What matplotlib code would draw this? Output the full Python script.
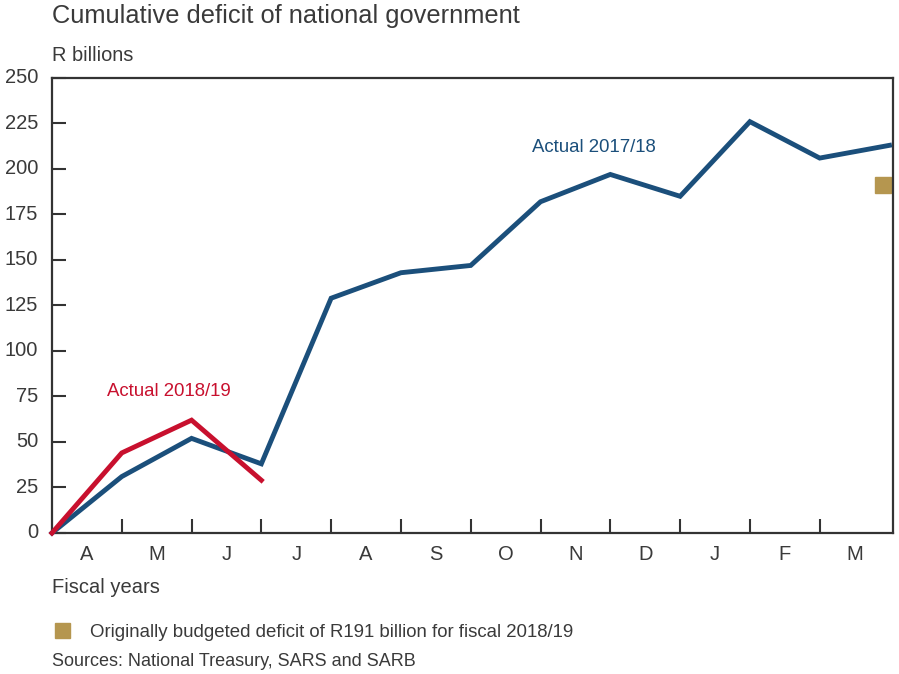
import matplotlib.pyplot as plt
import numpy as np

# data (end-of-month values, R billions)
months = ["A", "M", "J", "J", "A", "S", "O", "N", "D", "J", "F", "M"]
actual_2017 = [0, 31, 52, 38, 129, 143, 147, 182, 197, 185, 226, 206, 213]
actual_2018 = [0, 44, 62, 29]
budget_2018 = 191

blue = "#1b4f7b"
red = "#c8102e"
gold = "#b5964f"
grey = "#333333"
txt = "#3a3a3a"

plt.rcParams['font.family'] = ['Liberation Sans', 'DejaVu Sans']

fig = plt.figure(figsize=(8.99, 6.74), dpi=100)
ax = fig.add_axes([0.0578, 0.2092, 0.9355, 0.6751])

x17 = np.arange(len(actual_2017))
x18 = np.arange(len(actual_2018))
ax.plot(x17, actual_2017, color=blue, lw=3.5, solid_joinstyle='miter', clip_on=False, zorder=3)
ax.plot(x18, actual_2018, color=red, lw=3.5, solid_joinstyle='miter', clip_on=False, zorder=4)
ax.plot([11.9], [budget_2018], marker='s', ms=12, color=gold, ls='none', zorder=2)

ax.set_xlim(0, 12.05)
ax.set_ylim(0, 250)

ax.set_yticks(np.arange(0, 251, 25))
ax.set_xticks(np.arange(1, 12))
ax.set_xticklabels([])
ax.set_xticks(np.arange(len(months)) + 0.5, minor=True)
ax.set_xticklabels(months, minor=True)

ax.tick_params(axis='y', direction='in', length=10, width=1.5, color=grey,
               labelsize=14.5, labelcolor=txt, pad=10, right=False)
ax.tick_params(axis='x', which='major', direction='in', length=10, width=1.5, color=grey)
ax.tick_params(axis='x', which='minor', length=0, labelsize=14.5, labelcolor=txt, pad=9)
for tl in ax.get_yticklabels():
    tl.set_verticalalignment('center')

for s in ax.spines.values():
    s.set_color(grey)
    s.set_linewidth(1.6)

ax.text(6.88, 212, "Actual 2017/18", color=blue, fontsize=13.4, ha='left', va='center')
ax.text(0.79, 78, "Actual 2018/19", color=red, fontsize=13.4, ha='left', va='center')

fig.text(0.058, 0.976, "Cumulative deficit of national government", fontsize=18.3,
         color=txt, ha='left', va='center')
fig.text(0.058, 0.918, "R billions", fontsize=14.4, color=txt, ha='left', va='center')
fig.text(0.058, 0.129, "Fiscal years", fontsize=14.5, color=txt, ha='left', va='center')

fig.patches.append(plt.Rectangle((0.061, 0.053), 0.0167, 0.0223, transform=fig.transFigure,
                                 color=gold, figure=fig))
fig.text(0.1, 0.062, "Originally budgeted deficit of R191 billion for fiscal 2018/19",
         fontsize=13.4, color=txt, ha='left', va='center')
fig.text(0.058, 0.018, "Sources: National Treasury, SARS and SARB",
         fontsize=13, color=txt, ha='left', va='center')

fig.savefig("out.png", dpi=100)
